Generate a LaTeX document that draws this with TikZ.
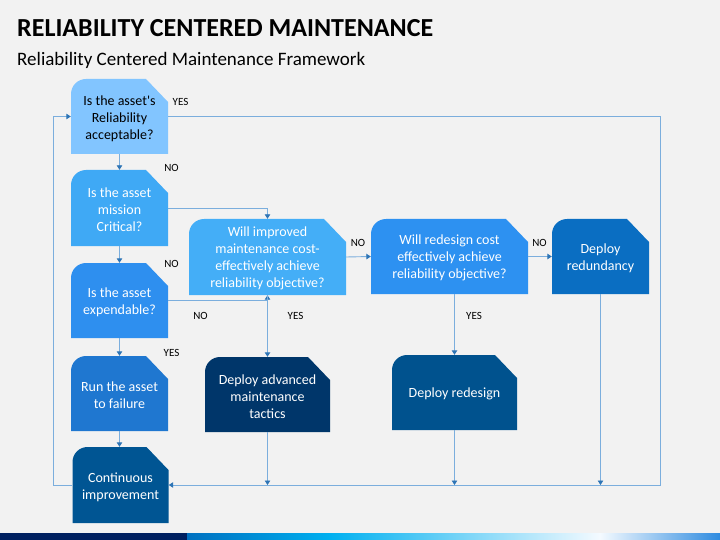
\documentclass[tikz,border=0pt]{standalone}
\usepackage{fontspec}
\setmainfont{Carlito}
\usetikzlibrary{arrows.meta}
\definecolor{bg}{HTML}{F2F2F2}
\definecolor{lc}{HTML}{7BAEDD}
\definecolor{ac}{HTML}{2E75B6}
\definecolor{cA}{HTML}{82C5FF}
\definecolor{cB}{HTML}{3FA9F5}
\definecolor{cC}{HTML}{2E8FEF}
\definecolor{cD}{HTML}{1F77D0}
\definecolor{cE}{HTML}{005593}
\definecolor{cF}{HTML}{44AEF7}
\definecolor{cG}{HTML}{2D91F1}
\definecolor{cH}{HTML}{0A6EC2}
\definecolor{cI}{HTML}{00366A}
\definecolor{cJ}{HTML}{00528E}
\definecolor{navy}{HTML}{002060}
\definecolor{barA}{HTML}{0070C0}
\definecolor{barB}{HTML}{00B0F0}
\definecolor{barC}{HTML}{F4FAFF}
\definecolor{barD}{HTML}{2E8BE0}
\newcommand\rcmcard[8]{%
  \fill[#6] ({#2-#4/2},{#3+#5/2}) -- ({#2-#4/2},{#3-#5/2+15})
    .. controls ({#2-#4/2},{#3-#5/2+6.7}) and ({#2-#4/2+6.7},{#3-#5/2}) .. ({#2-#4/2+15},{#3-#5/2})
    -- ({#2+#4/2-22},{#3-#5/2}) -- ({#2+#4/2},{#3-#5/2+23}) -- ({#2+#4/2},{#3+#5/2}) -- cycle;
  \node[cardtext, text=#7, minimum width=#4pt, minimum height=#5pt] (#1) at (#2,#3) {};
  \node[cardtext, text=#7, yshift=-1.8pt] (#1t) at (#1.center) {#8};}
\begin{document}
\begin{tikzpicture}[x=1pt,y=-1pt,
  cardtext/.style={inner sep=0pt, align=center, font=\fontsize{14}{17}\selectfont},
  conn/.style={draw=lc, line width=0.9pt, -{Triangle[width=5.5pt,length=4.5pt,color=ac]}},
  lbl/.style={font=\fontsize{11}{13}\selectfont, text=black, inner sep=0pt}]
\useasboundingbox (0,0) rectangle (720,540);
\fill[bg] (0,0) rectangle (720,540);
% title
\node[anchor=base west, inner sep=0pt, font=\fontsize{26}{30}\bfseries\selectfont] (title) at (17,37) {RELIABILITY CENTERED MAINTENANCE};
\node[anchor=base west, inner sep=0pt, font=\fontsize{19}{22}\selectfont] (subtitle) at (17,66) {Reliability Centered Maintenance Framework};
% bottom bar
\fill[navy] (0,533) rectangle (187,540);
\shade[left color=barA, right color=barB] (187,533) rectangle (330,540);
\shade[left color=barB, right color=barC] (330,533) rectangle (600,540);
\shade[left color=barC, right color=barD] (600,533) rectangle (720,540);
% cards
\rcmcard{s1}{119.5}{116.5}{97}{75}{cA}{black}{Is the asset\textquotesingle s\\Reliability\\acceptable?}
\rcmcard{s2}{119.5}{208}{97}{76}{cB}{white}{Is the asset\\mission\\Critical?}
\rcmcard{s3}{119.5}{300.5}{97}{75}{cC}{white}{Is the asset\\expendable?}
\rcmcard{s4}{119.5}{393.5}{97}{75}{cD}{white}{Run the asset\\to failure}
\rcmcard{s5}{120.5}{485}{96}{76}{cE}{white}{Continuous\\improvement}
\rcmcard{s6}{267.5}{257}{157}{76}{cF}{white}{Will improved\\maintenance cost-\\effectively achieve\\reliability objective?}
\rcmcard{s7}{449.5}{256.5}{157}{75}{cG}{white}{Will redesign cost\\effectively achieve\\reliability objective?}
\rcmcard{s8}{600.5}{256.5}{97}{75}{cH}{white}{Deploy\\redundancy}
\rcmcard{s9}{267.5}{394.5}{125}{75}{cI}{white}{Deploy advanced\\maintenance\\tactics}
\rcmcard{s10}{454.5}{392.5}{125}{75}{cJ}{white}{Deploy redesign}
% frame coordinates
\coordinate (rt) at (660,116.5);
\coordinate (rb) at (660,485);
\coordinate (lt) at (53,116.5);
\coordinate (lb) at (53,485);
% connectors
\draw[conn] (s1.south) -- (s2.north);
\draw[conn] (s2.south) -- (s3.north);
\draw[conn] (s3.south) -- (s4.north);
\draw[conn] (s4.south) -- (s4.south |- s5.north);
\draw[conn] (s1.east) -- (rt) -- (rb) -- (s5.east);
\draw[conn] (s5.west) -- (lb) -- (lt) -- (s1.west);
\draw[conn] (s2.east) -- (s2.east -| s6.north) -- (s6.north);
\draw[conn] (s3.east) -- (s3.east -| s6.south) -- (s6.south);
\draw[conn] (s6.south) -- (s9.north);
\draw[conn] (s9.south) -- (s9.south |- s5.east);
\draw[conn] (s6.east) -- (s7.west);
\draw[conn] (s7.east) -- (s8.west);
\draw[conn] (s10.north |- s7.south) -- (s10.north);
\draw[conn] (s10.south) -- (s10.south |- s5.east);
\draw[conn] (s8.south) -- (s8.south |- s5.east);
% labels
\node[lbl] (l1) at (180.5,102) {YES};
\node[lbl] (l2) at (171.5,168) {NO};
\node[lbl] (l3) at (171.5,264) {NO};
\node[lbl] (l4) at (200.5,316) {NO};
\node[lbl] (l5) at (295.5,316) {YES};
\node[lbl] (l6) at (171.5,353) {YES};
\node[lbl] (l7) at (358,243) {NO};
\node[lbl] (l8) at (539.5,243) {NO};
\node[lbl] (l9) at (474,316) {YES};
\end{tikzpicture}
\end{document}
